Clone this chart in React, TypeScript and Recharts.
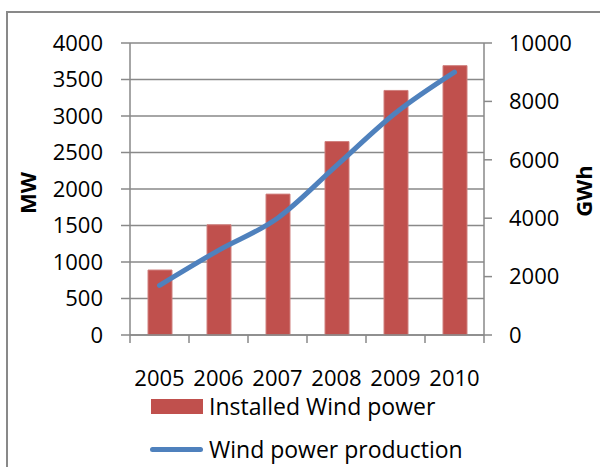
import React from 'react';
import { ComposedChart, Bar, Line, XAxis, YAxis, CartesianGrid, Legend } from 'recharts';

const years = ['2005', '2006', '2007', '2008', '2009', '2010'];
const installedMW = [890, 1510, 1930, 2650, 3350, 3690];
const productionGWh = [1700, 2900, 4000, 5800, 7600, 9000];
const mwTicks = [0, 500, 1000, 1500, 2000, 2500, 3000, 3500, 4000];
const gwhTicks = [0, 2000, 4000, 6000, 8000, 10000];
const edgeTicks = [0, 1, 2, 3, 4, 5, 6];

const data = years.map((y, i) => ({ year: y, slot: i + 0.5, mw: installedMW[i], gwh: productionGWh[i] }));

const GRAY = '#898989';
const RED = '#C0504D';
const BLUE = '#4F81BD';
const FONT = "'Open Sans', sans-serif";

function LegendContent(props: any) {
  const payload = props.payload || [];
  return (
    <div style={{ fontFamily: FONT, fontSize: 23, color: '#000', lineHeight: '22px' }}>
      {payload.map((p: any, i: number) => (
        <div
          key={i}
          style={{ display: 'flex', alignItems: 'center', height: 22, marginTop: i === 0 ? 0 : 21 }}
        >
          {p.type === 'line' ? (
            <div style={{ width: 53, height: 5, borderRadius: 3, background: BLUE, marginRight: 6 }} />
          ) : (
            <div style={{ width: 52, height: 15, background: RED, marginLeft: 1, marginRight: 6 }} />
          )}
          <span style={{ whiteSpace: 'nowrap' }}>{p.value}</span>
        </div>
      ))}
    </div>
  );
}

const leftTitle = (props: any) => {
  const vb = props.viewBox || {};
  const cx = vb.x + 27;
  const cy = vb.y + vb.height / 2 + 4;
  return (
    <text
      x={cx}
      y={cy}
      transform={`rotate(-90 ${cx} ${cy})`}
      textAnchor="middle"
      dominantBaseline="central"
      fontSize={22}
      fontWeight="bold"
      fontFamily={FONT}
      fill="#000"
    >
      MW
    </text>
  );
};

const rightTitle = (props: any) => {
  const vb = props.viewBox || {};
  const cx = vb.x + 99;
  const cy = vb.y + vb.height / 2 + 2;
  return (
    <text
      x={cx}
      y={cy}
      transform={`rotate(-90 ${cx} ${cy})`}
      textAnchor="middle"
      dominantBaseline="central"
      fontSize={22}
      fontWeight="bold"
      fontFamily={FONT}
      fill="#000"
    >
      GWh
    </text>
  );
};

const EmptyTick = () => <g />;

export default function App() {
  return (
    <div style={{ position: 'absolute', left: 0, top: 0, width: 600, height: 467, overflow: 'hidden', background: '#fff' }}>
      <div
        style={{
          position: 'absolute',
          left: 6,
          top: 11,
          width: 700,
          height: 600,
          border: `2px solid ${GRAY}`,
        }}
      />
      <div style={{ position: 'absolute', left: 0, top: 0 }}>
        <ComposedChart
          width={600}
          height={467}
          data={data}
          margin={{ top: 43, right: 0, bottom: 71, left: 0 }}
          style={{ fontFamily: FONT }}
        >
          <CartesianGrid vertical={false} yAxisId="left" xAxisId="main" stroke={GRAY} strokeWidth={1.5} />
          <XAxis
            xAxisId="edges"
            type="number"
            dataKey="slot"
            domain={[0, 6]}
            ticks={edgeTicks}
            allowDataOverflow
            height={1}
            tick={EmptyTick}
            tickSize={8}
            tickLine={{ stroke: GRAY, strokeWidth: 1.5 }}
            axisLine={{ stroke: GRAY, strokeWidth: 1.5 }}
          />
          <XAxis
            xAxisId="main"
            dataKey="year"
            height={60}
            interval={0}
            tickLine={false}
            axisLine={false}
            tickSize={6}
            tickMargin={28}
            tick={{ fill: '#000', fontSize: 22 }}
          />
          <YAxis
            yAxisId="left"
            orientation="left"
            width={130}
            domain={[0, 4000]}
            ticks={mwTicks}
            interval={0}
            tickSize={9}
            tickMargin={18}
            tick={{ fill: '#000', fontSize: 22 }}
            tickLine={{ stroke: GRAY, strokeWidth: 1.5 }}
            axisLine={{ stroke: GRAY, strokeWidth: 1.5 }}
            label={leftTitle}
          />
          <YAxis
            yAxisId="right"
            orientation="right"
            width={116}
            domain={[0, 10000]}
            ticks={gwhTicks}
            interval={0}
            tickSize={8}
            tickMargin={17}
            tick={{ fill: '#000', fontSize: 22 }}
            tickLine={{ stroke: GRAY, strokeWidth: 1.5 }}
            axisLine={{ stroke: GRAY, strokeWidth: 1.5 }}
            label={rightTitle}
          />
          <Legend
            layout="horizontal"
            verticalAlign="middle"
            align="center"
            content={LegendContent}
            wrapperStyle={{ left: 150, top: 395, width: 400 }}
          />
          <Bar
            xAxisId="main"
            yAxisId="left"
            dataKey="mw"
            name="Installed Wind power"
            fill={RED}
            stroke="#D0807E"
            strokeWidth={1}
            barSize={24}
            isAnimationActive={false}
          />
          <Line
            xAxisId="main"
            yAxisId="right"
            dataKey="gwh"
            name="Wind power production"
            type="monotone"
            stroke={BLUE}
            strokeWidth={5}
            strokeLinecap="round"
            dot={false}
            activeDot={false}
            isAnimationActive={false}
          />
        </ComposedChart>
      </div>
    </div>
  );
}
